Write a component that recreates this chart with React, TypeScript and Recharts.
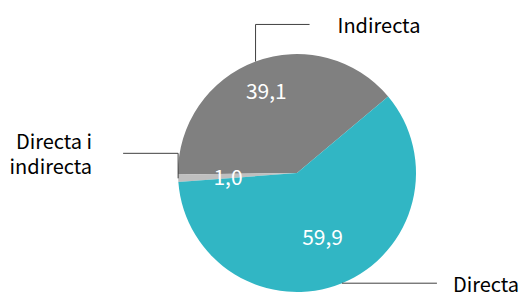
import { Pie, PieChart, Cell } from 'recharts';

const categories = ['Indirecta', 'Directa i indirecta', 'Directa'];
const values = [39.1, 1.0, 59.9];
const valueLabels = ['39,1', '1,0', '59,9'];
const nameLines = [['Indirecta'], ['Directa i', 'indirecta'], ['Directa']];

const colors = ['#808080', '#BFBFBF', '#31B6C4'];

// callout leader: from slice edge go vertically by dy, then horizontally by dx
const callouts = [
  { dy: -37, dx: 54, gap: 28, inner: 0.74 },
  { dy: -25, dx: -55, gap: -31, inner: 0.58 },
  { dy: 0, dx: 95, gap: 16, inner: 0.57 },
];

const RAD = Math.PI / 180;
const font = '"Noto Sans CJK KR", "Noto Sans", sans-serif';

const data = categories.map((name, i) => ({ name, value: values[i] }));

function renderLabel(props: any) {
  const { cx, cy, midAngle, outerRadius, index } = props;
  const c = callouts[index];
  const cos = Math.cos(-midAngle * RAD);
  const sin = Math.sin(-midAngle * RAD);
  const ix = cx + outerRadius * c.inner * cos;
  const iy = cy + outerRadius * c.inner * sin;
  const ex = cx + outerRadius * cos;
  const ey = cy + outerRadius * sin;
  const ky = ey + c.dy;
  const kx = ex + c.dx;
  const tx = kx + c.gap;
  const lines = nameLines[index];
  return (
    <g>
      <text x={ix} y={iy} fill="#fff" fontSize={21} fontFamily={font} textAnchor="middle" dominantBaseline="central">
        {valueLabels[index]}
      </text>
      <polyline points={`${ex},${ey} ${ex},${ky} ${kx},${ky}`} fill="none" stroke="#404040" strokeWidth={1} />
      {lines.map((l, j) => (
        <text
          key={j}
          x={tx}
          y={ky + (j - (lines.length - 1) / 2) * 25}
          fill="#000"
          fontSize={20}
          fontFamily={font}
          textAnchor={c.gap < 0 ? 'end' : 'start'}
          dominantBaseline="central"
        >
          {l}
        </text>
      ))}
    </g>
  );
}

export default function App() {
  return (
    <div style={{ position: 'absolute', left: 0, top: 0, background: '#fff' }}>
      <PieChart width={522} height={293} margin={{ top: 0, right: 0, bottom: 0, left: 0 }}>
        <Pie
          data={data}
          dataKey="value"
          nameKey="name"
          cx={297}
          cy={173}
          outerRadius={119}
          startAngle={40}
          endAngle={400}
          stroke="none"
          label={renderLabel}
          labelLine={false}
          isAnimationActive={false}
        >
          {data.map((d, i) => (
            <Cell key={d.name} fill={colors[i]} />
          ))}
        </Pie>
      </PieChart>
    </div>
  );
}
